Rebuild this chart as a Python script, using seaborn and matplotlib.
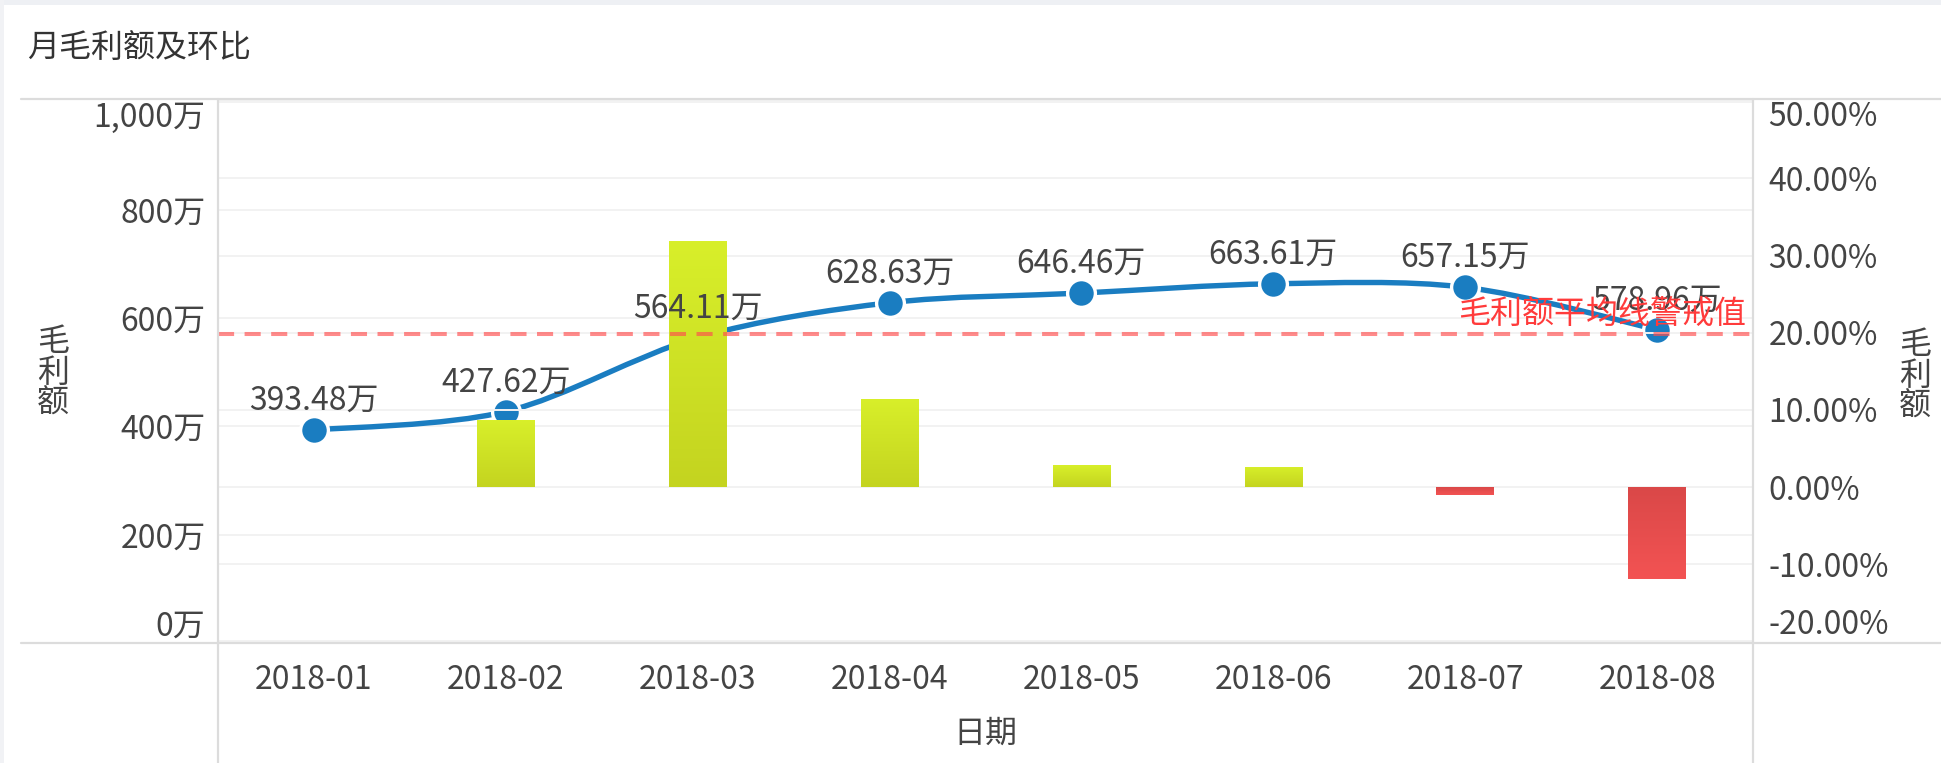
import numpy as np
import pandas as pd
import matplotlib
matplotlib.use("Agg")
import matplotlib.pyplot as plt
import matplotlib.transforms as mtransforms
from matplotlib.path import Path
from matplotlib.patches import PathPatch, Rectangle
from matplotlib.lines import Line2D
import seaborn as sns

# Données
months = ['2018-01', '2018-02', '2018-03', '2018-04', '2018-05', '2018-06', '2018-07', '2018-08']
profit = [393.48, 427.62, 564.11, 628.63, 646.46, 663.61, 657.15, 578.96]  # 万
growth = [np.nan, 8.68, 31.92, 11.44, 2.84, 2.65, -0.97, -11.90]  # %
left_ticks = [0, 200, 400, 600, 800, 1000]
right_ticks = [-20, -10, 0, 10, 20, 30, 40, 50]

title = '月毛利额及环比'
avg_label = '毛利额平均线警戒值'

df = pd.DataFrame({'month': months, 'profit': profit, 'growth': growth})
df_bar = df.dropna().copy()
df_bar['sign'] = np.where(df_bar['growth'] >= 0, 'up', 'down')

sns.set_theme(style='white')
plt.rcParams['font.family'] = ['Noto Sans CJK SC', 'DejaVu Sans']
FS = 23
TXT = '#444444'
BLUE = '#1a7dc1'

fig = plt.figure(figsize=(19.41, 7.63), dpi=100)
fig.patch.set_facecolor('white')
ax = fig.add_axes([218 / 1941, 1 - 643 / 763, (1753 - 218) / 1941, (643 - 99) / 763])
ax2 = ax.twinx()

# courbe lissée (axe gauche, sous les barres)
xs = np.arange(len(months), dtype=float)
ys = np.array(profit)
s = 0.16
verts = [(xs[0], ys[0])]
codes = [Path.MOVETO]
n = len(xs)
for i in range(n - 1):
    a, b = max(i - 1, 0), min(i + 2, n - 1)
    c1 = (xs[i] + (xs[i + 1] - xs[a]) * s, ys[i] + (ys[i + 1] - ys[a]) * s)
    c2 = (xs[i + 1] - (xs[b] - xs[i]) * s, ys[i + 1] - (ys[b] - ys[i]) * s)
    verts += [c1, c2, (xs[i + 1], ys[i + 1])]
    codes += [Path.CURVE4] * 3
ax.add_patch(PathPatch(Path(verts, codes), facecolor='none', edgecolor=BLUE,
                       lw=3.9, capstyle='round', zorder=2))
sns.scatterplot(data=df, x='month', y='profit', ax=ax, color=BLUE, s=400,
                edgecolor='white', linewidth=2.4, zorder=3)

# barres du taux (axe droit, au-dessus de la courbe)
sns.barplot(data=df_bar, x='month', y='growth', hue='sign', order=months,
            palette={'up': '#cfe226', 'down': '#e84c4c'}, dodge=False,
            width=0.3, legend=False, ax=ax2, zorder=2)

grad_up = np.array([[216, 239, 42], [196, 212, 32]]) / 255
grad_down = np.array([[218, 72, 72], [243, 83, 83]]) / 255
for p in ax2.patches:
    h = p.get_height()
    if not np.isfinite(h) or h == 0:
        continue
    x0, y0 = p.get_xy()
    w = p.get_width()
    c = grad_up if h > 0 else grad_down
    img = np.linspace(c[0], c[1], 64)[:, None, :]
    im = ax2.imshow(img, extent=(x0, x0 + w, min(y0, y0 + h), max(y0, y0 + h)),
                    origin='upper', aspect='auto', zorder=2.1, interpolation='bilinear')
    im.set_clip_path(p)
    p.set_edgecolor('none')

# ligne moyenne
avg = float(np.mean(profit))
blend = mtransforms.blended_transform_factory(ax2.transAxes, ax.transData)
ax2.add_line(Line2D([0, 1], [avg, avg], transform=blend, color='#ff4d4d', alpha=0.65,
                    lw=2.9, dashes=(4, 2.6), zorder=4))
ax2.annotate(avg_label, xy=(1, avg), xycoords=blend, xytext=(-5, 3),
             textcoords='offset points', ha='right', va='bottom',
             color='#ff3b3b', fontsize=FS, zorder=6)

# étiquettes de valeurs
for m, v in zip(months, profit):
    ax2.annotate(f'{v:.2f}万', xy=(months.index(m), v), xycoords=ax.transData,
                 xytext=(0, 21), textcoords='offset points', ha='center', va='center',
                 color=TXT, fontsize=FS, zorder=5)

# axes
ax.set_xlim(-0.5, len(months) - 0.5)
ax.set_ylim(0, 1005)
ax2.set_ylim(-20.2, 50.3)
ax.set_xticks(range(len(months)))
ax.set_xticklabels(months)
ax.set_yticks(left_ticks)
ax.set_yticklabels([f'{t:,}万' for t in left_ticks])
ax2.set_yticks(right_ticks)
ax2.set_yticklabels([f'{t:.2f}%' for t in right_ticks])
ax.set_xlabel('')
ax.set_ylabel('')
ax2.set_xlabel('')
ax2.set_ylabel('')
ax.tick_params(axis='x', length=0, pad=15, labelsize=FS, labelcolor=TXT)
ax.tick_params(axis='y', length=0, pad=9, labelsize=FS, labelcolor=TXT)
ax2.tick_params(axis='y', length=0, pad=11, labelsize=FS, labelcolor=TXT)
ax.yaxis.get_ticklabels()[0].set_verticalalignment('bottom')
ax.yaxis.get_ticklabels()[-1].set_verticalalignment('top')
ax2.yaxis.get_ticklabels()[0].set_verticalalignment('bottom')
ax2.yaxis.get_ticklabels()[-1].set_verticalalignment('top')
for a in (ax, ax2):
    a.grid(True, axis='y', color='#f2f2f2', lw=1.4)
    a.grid(False, axis='x')
    for sp in a.spines.values():
        sp.set_visible(False)
ax.set_axisbelow(True)

# cadre du tableau de bord
fig.add_artist(Rectangle((0, 1 - 5 / 763), 1, 5 / 763, transform=fig.transFigure,
                         color='#eef0f4', lw=0))
fig.add_artist(Rectangle((0, 0), 4 / 1941, 1, transform=fig.transFigure,
                         color='#f1f2f5', lw=0))
sep = '#dcdcdc'
for yy in (99, 643):
    fig.add_artist(Line2D([21 / 1941, 1], [1 - yy / 763] * 2, transform=fig.transFigure,
                          color=sep, lw=1.6))
for xx in (218, 1753):
    fig.add_artist(Line2D([xx / 1941] * 2, [0, 1 - 99 / 763], transform=fig.transFigure,
                          color=sep, lw=1.6))

# titres
fig.text(27 / 1941, 1 - 48 / 763, title, ha='left', va='center', fontsize=FS, color='#333333')
fig.text(985 / 1941, 1 - 734 / 763, '日期', ha='center', va='center', fontsize=FS, color=TXT)
fig.text(53 / 1941, 1 - 373 / 763, '毛\n利\n额', ha='center', va='center', fontsize=FS,
         color=TXT, linespacing=0.95)
fig.text(1915 / 1941, 1 - 376 / 763, '毛\n利\n额', ha='center', va='center', fontsize=FS,
         color=TXT, linespacing=0.95)

fig.savefig('out.png', dpi=100)
